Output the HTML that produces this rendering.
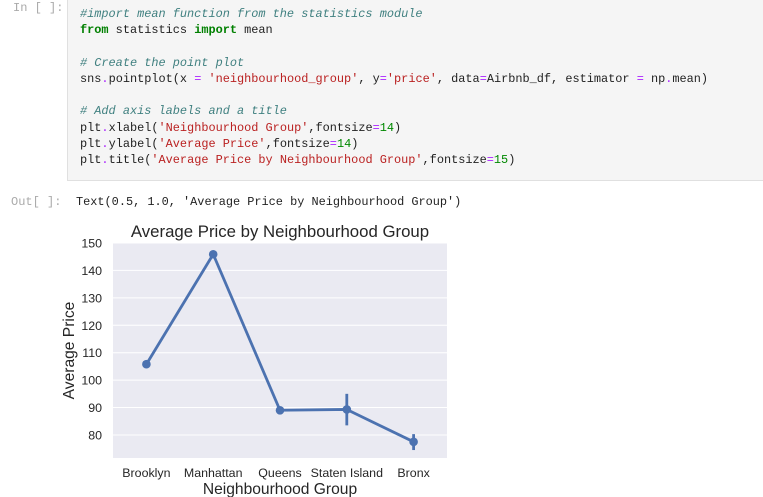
<!DOCTYPE html>
<html><head><meta charset="utf-8"><style>
body{margin:0;width:763px;height:497px;background:#fff;overflow:hidden;position:relative;font-family:"Liberation Mono",monospace}
.prompt{position:absolute;color:#aaa;font-size:12px}
#cell{position:absolute;left:67px;top:0;width:700px;height:181px;background:#f5f5f5;border:1px solid #e0e0e0;border-top:none;box-sizing:border-box}
.ln{position:absolute;left:12px;font-size:11.9px;color:#222;white-space:pre}
.c{color:#408080;font-style:italic}.k{color:#008000;font-weight:bold}.s{color:#ba2121}.o{color:#aa22ff}.n{color:#080}
</style></head><body>
<div class="prompt" style="left:13px;top:1px">In [ ]:</div>
<div id="cell">
<div class="ln" style="top:7px"><span class="c">#import mean function from the statistics module</span></div>
<div class="ln" style="top:23px"><span class="k">from</span> statistics <span class="k">import</span> mean</div>
<div class="ln" style="top:56px"><span class="c"># Create the point plot</span></div>
<div class="ln" style="top:72px">sns<span class="o">.</span>pointplot(x <span class="o">=</span> <span class="s">'neighbourhood_group'</span>, y<span class="o">=</span><span class="s">'price'</span>, data<span class="o">=</span>Airbnb_df, estimator <span class="o">=</span> np<span class="o">.</span>mean)</div>
<div class="ln" style="top:104px"><span class="c"># Add axis labels and a title</span></div>
<div class="ln" style="top:121px">plt<span class="o">.</span>xlabel(<span class="s">'Neighbourhood Group'</span>,fontsize<span class="o">=</span><span class="n">14</span>)</div>
<div class="ln" style="top:137px">plt<span class="o">.</span>ylabel(<span class="s">'Average Price'</span>,fontsize<span class="o">=</span><span class="n">14</span>)</div>
<div class="ln" style="top:153px">plt<span class="o">.</span>title(<span class="s">'Average Price by Neighbourhood Group'</span>,fontsize<span class="o">=</span><span class="n">15</span>)</div>
</div>
<div class="prompt" style="left:11px;top:195px">Out[ ]:</div>
<div style="position:absolute;left:76px;top:195px;font-size:11.9px;color:#222;white-space:pre">Text(0.5, 1.0, 'Average Price by Neighbourhood Group')</div>
<svg id="chart" width="763" height="497" style="position:absolute;left:0;top:0" font-family="'Liberation Sans','DejaVu Sans',sans-serif"></svg>
<script>
const categories=["Brooklyn","Manhattan","Queens","Staten Island","Bronx"];
const means=[105.8,145.9,89.0,89.3,77.5];
const ciLow=[105.0,145.0,88.0,83.5,74.5];
const ciHigh=[106.6,146.8,90.0,95.0,80.3];
const yTicks=[80,90,100,110,120,130,140,150];
const NS="http://www.w3.org/2000/svg";
const svg=document.getElementById('chart');
const L=113,R=447,T=243,B=458,yMin=71.6,yMax=150;
const y=v=>T+(yMax-v)/(yMax-yMin)*(B-T);
const bw=(R-L)/categories.length;
const x=i=>L+bw*(i+0.5);
function mk(t,a,p){const e=document.createElementNS(NS,t);for(const k in a)e.setAttribute(k,a[k]);(p||svg).appendChild(e);return e;}
const bg=mk('rect',{x:L,y:T,width:R-L,height:B-T,fill:'#eaeaf2'});


yTicks.forEach(v=>{
 const g=mk('line',{x1:L,x2:R,y1:y(v),y2:y(v),stroke:'#fff','stroke-width':1});
 
 
 const t=mk('text',{x:L-11,y:y(v)+4.5,'text-anchor':'end','font-size':12.4,fill:'#262626'});
 t.textContent=v;
 
 
});
categories.forEach((c,i)=>{
 const t=mk('text',{x:x(i),y:477,'text-anchor':'middle','font-size':12.4,fill:'#262626'});
 t.textContent=c;
 
 
});
const pl=mk('polyline',{points:means.map((v,i)=>x(i)+','+y(v)).join(' '),fill:'none',stroke:'#4c72b0','stroke-width':2.8,'stroke-linejoin':'round'});


means.forEach((v,i)=>{
 const e=mk('line',{x1:x(i),x2:x(i),y1:y(ciLow[i]),y2:y(ciHigh[i]),stroke:'#4c72b0','stroke-width':2.8});
 
 
 const p=mk('circle',{cx:x(i),cy:y(v),r:4.3,fill:'#4c72b0'});
 
 
});
const ti=mk('text',{x:(L+R)/2,y:237,'text-anchor':'middle','font-size':16.8,fill:'#262626'});
ti.textContent='Average Price by Neighbourhood Group';


const xl=mk('text',{x:(L+R)/2,y:494,'text-anchor':'middle','font-size':15.6,fill:'#262626'});
xl.textContent='Neighbourhood Group';


const yl=mk('text',{x:0,y:0,'text-anchor':'middle','font-size':15.6,fill:'#262626',transform:'translate(74,'+((T+B)/2)+') rotate(-90)'});
yl.textContent='Average Price';


</script>
</body></html>
